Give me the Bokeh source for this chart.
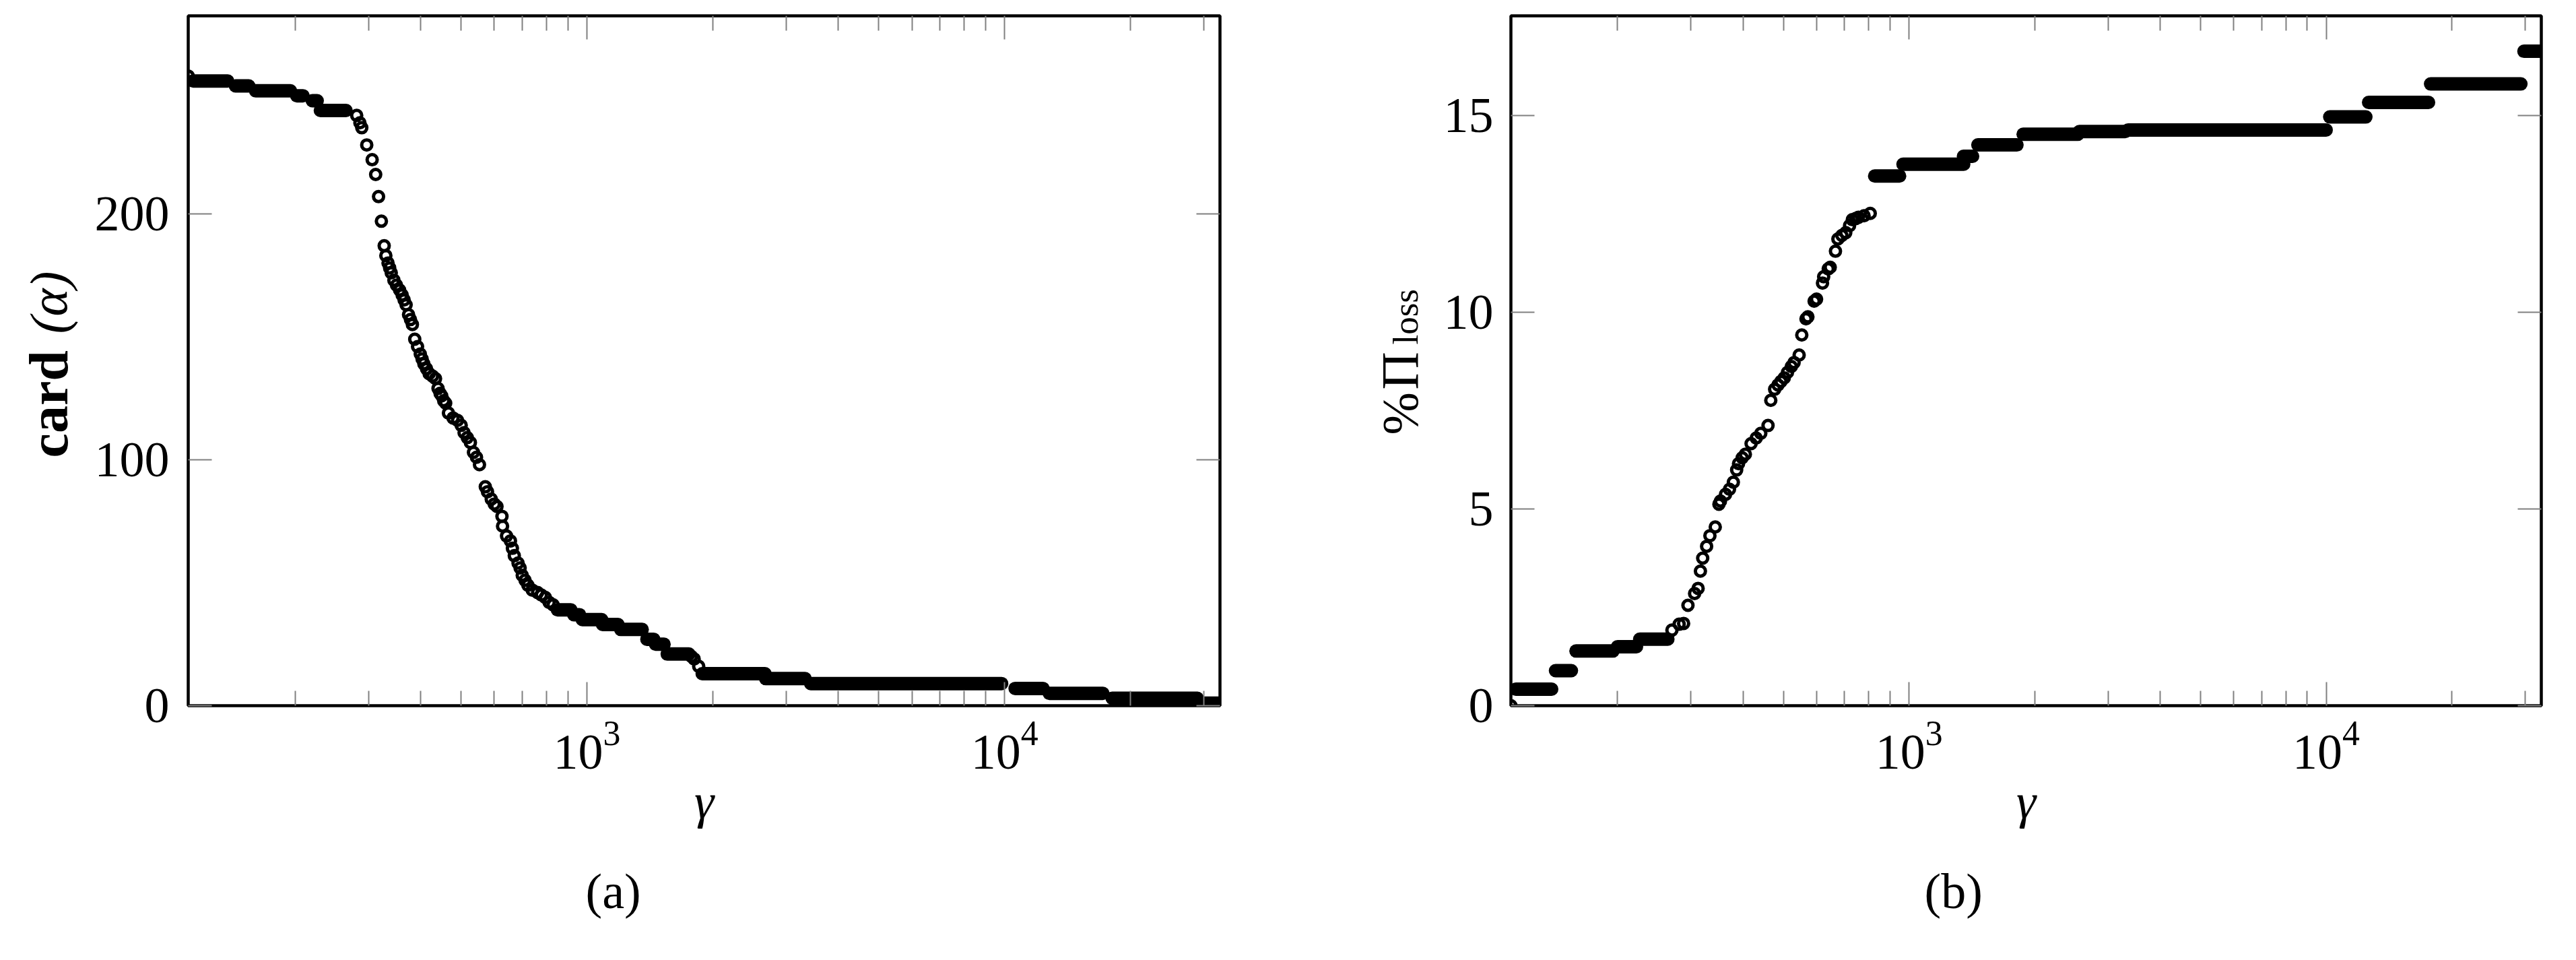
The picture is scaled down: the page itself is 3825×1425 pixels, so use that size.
import math
from bokeh.plotting import figure
from bokeh.layouts import row
from bokeh.models import FixedTicker, LogAxis, LinearAxis, ColumnDataSource, Title, Range1d
from bokeh.core.properties import value
from bokeh.embed import file_html
from bokeh.resources import INLINE

FONT = "Liberation Serif"

# ---------------- data ----------------
gamma_range = (111, 32800)
x_major_ticks = [1000, 10000]
x_major_labels = ["10³", "10⁴"]
x_minor_ticks = [200, 300, 400, 500, 600, 700, 800, 900,
                 2000, 3000, 4000, 5000, 6000, 7000, 8000, 9000,
                 20000, 30000]

# (a) card(alpha) vs gamma
card_ticks = [0, 100, 200]
card_range = (0, 280.5)
# runs of densely overlapping markers: start gamma, end gamma, value
card_run_start = [114, 144, 161, 202, 220, 230, 850, 930, 975, 1090, 1205, 1392, 1460, 1557,
                  1888, 2680, 3435, 10600, 12800, 18100, 29700]
card_run_end = [138, 155, 195, 209, 226, 265, 915, 960, 1085, 1187, 1356, 1445, 1530, 1755,
                2670, 3330, 9840, 12360, 17200, 28950, 32800]
card_run_value = [254, 252, 250, 248, 246, 242, 39, 37, 35, 33, 31, 27, 25, 21,
                  13, 11, 9, 7, 5, 3, 1]
# individual markers
card_pt_gamma = [111, 281, 286, 289, 297, 306, 312, 317, 322, 327, 330, 334, 337, 340, 345, 350,
                 356, 361, 365, 369, 374, 378, 382, 387, 393, 399, 403, 407, 413, 419, 427, 434,
                 440, 445, 449, 454, 459, 466, 478, 490, 500, 508, 517, 526, 535, 544, 553, 571,
                 578, 590, 600, 609, 626, 628, 642, 656, 663, 670, 684, 692, 700, 711, 722, 740,
                 762, 778, 795, 812, 830, 1780, 1806, 1852]
card_pt_value = [256, 240, 237, 235, 228, 222, 216, 207, 197, 187, 183, 180, 178, 176, 173, 171,
                 169, 167, 165, 163, 159, 157, 155, 149, 146, 143, 141, 139, 137, 135, 134, 133,
                 129, 127, 126, 124, 123, 119, 117, 116, 114, 111, 109, 107, 103, 101, 98, 89,
                 87, 84, 82, 81, 77, 73, 69, 67, 64, 61, 58, 56, 53, 51, 49, 47,
                 46, 45, 44, 42, 41, 20, 19, 16]

# (b) % Pi_loss vs gamma
loss_ticks = [0, 5, 10, 15]
loss_range = (0, 17.53)
loss_run_start = [114, 142, 159, 200, 226, 827, 967, 1350, 1462, 1877, 2560, 3350, 10200, 12640,
                  17800, 29800]
loss_run_end = [139, 155, 195, 222, 264, 949, 1352, 1420, 1814, 2538, 3300, 10000, 12450, 17600,
                29300, 32800]
loss_run_value = [0.42, 0.89, 1.39, 1.50, 1.69, 13.46, 13.76, 13.96, 14.25, 14.52, 14.59, 14.63,
                  14.96, 15.33, 15.80, 16.63]
loss_pt_gamma = [111, 270, 281, 288, 295, 306, 312, 316, 320, 327, 333, 343, 350, 353, 363, 371,
                 379, 386, 390, 398, 405, 418, 430, 441, 459, 466, 476, 485, 493, 502, 511, 522,
                 530, 545, 553, 566, 572, 592, 600, 620, 624, 640, 647, 666, 675, 690, 705, 720,
                 731, 745, 756, 780, 807]
loss_pt_value = [0.0, 1.92, 2.07, 2.09, 2.55, 2.85, 2.98, 3.42, 3.75, 4.05, 4.32, 4.54, 5.12, 5.20,
                 5.37, 5.50, 5.68, 5.99, 6.15, 6.30, 6.39, 6.66, 6.80, 6.92, 7.12, 7.76, 8.04, 8.15,
                 8.24, 8.33, 8.47, 8.62, 8.72, 8.91, 9.42, 9.83, 9.88, 10.28, 10.33, 10.74, 10.90,
                 11.10, 11.14, 11.55, 11.86, 11.95, 12.02, 12.20, 12.35, 12.38, 12.41, 12.45, 12.51]

# y-axis label pieces (rotated text)
ylabel_a_text = ["card", "(α)"]
ylabel_a_style = ["bold", "italic"]
ylabel_b_text = ["%", "Π", "loss"]

# ---------------- styling / geometry ----------------
MARK_SIZE = 15
MARK_LW = 5
RUN_LW = MARK_SIZE + MARK_LW
TICK_GRAY = "#808080"
FS = "74px"
HEIGHT = 1420
BORDER_TOP = 23
FRAME_H = 1024
FRAME_BOTTOM = BORDER_TOP + FRAME_H


def style_axis(ax, show_labels, major_len=35, minor_len=22):
    ax.axis_line_color = None
    ax.major_tick_in = major_len
    ax.major_tick_out = 0
    ax.minor_tick_in = minor_len
    ax.minor_tick_out = 0
    ax.major_tick_line_color = TICK_GRAY
    ax.major_tick_line_width = 2
    ax.minor_tick_line_color = TICK_GRAY
    ax.minor_tick_line_width = 2
    ax.major_label_text_font = FONT
    if show_labels:
        ax.major_label_text_font_size = FS
        ax.major_label_text_color = "black"
    else:
        ax.major_label_text_font_size = "6px"
        ax.major_label_text_color = None
        ax.major_label_standoff = 0


def make_panel(y_range, y_ticks, run_start, run_end, run_value, pt_x, pt_y,
               width, border_left, frame_w, caption, caption_offset, y_standoff):
    p = figure(width=width, height=HEIGHT, x_axis_type="log",
               x_range=gamma_range, y_range=y_range,
               output_backend="svg", toolbar_location=None,
               min_border_left=border_left,
               min_border_right=width - border_left - frame_w,
               min_border_top=BORDER_TOP,
               min_border_bottom=HEIGHT - FRAME_BOTTOM)
    p.title.visible = False
    p.xgrid.visible = False
    p.ygrid.visible = False
    p.background_fill_color = "white"
    p.border_fill_color = "white"
    p.outline_line_color = "black"
    p.outline_line_width = 4.5

    xt = FixedTicker(ticks=x_major_ticks, minor_ticks=x_minor_ticks)
    yt = FixedTicker(ticks=y_ticks)
    overrides = {str(t): lab for t, lab in zip(x_major_ticks, x_major_labels)}

    xa = p.xaxis[0]
    xa.ticker = xt
    xa.major_label_overrides = overrides
    style_axis(xa, True)
    xa.major_label_standoff = 24
    xa.axis_label = "γ"
    xa.axis_label_text_font = FONT
    xa.axis_label_text_font_size = FS
    xa.axis_label_text_font_style = "italic"
    xa.axis_label_text_color = "black"
    xa.axis_label_standoff = 4

    ya = p.yaxis[0]
    ya.ticker = yt
    style_axis(ya, True)
    ya.major_label_standoff = y_standoff

    top = LogAxis(ticker=xt)
    style_axis(top, False)
    p.add_layout(top, "above")
    right = LinearAxis(ticker=yt)
    style_axis(right, False)
    p.add_layout(right, "right")

    p.add_layout(Title(text=caption, align="left", offset=caption_offset,
                       text_font=FONT, text_font_size=FS, text_font_style="normal",
                       text_color="black", standoff=94), "below")

    runs = ColumnDataSource(dict(x0=run_start, x1=run_end, y=run_value))
    p.segment(x0="x0", y0="y", x1="x1", y1="y", source=runs,
              line_width=RUN_LW, line_cap="round", line_color="black")
    pts = ColumnDataSource(dict(x=pt_x, y=pt_y))
    p.scatter(x="x", y="y", source=pts, marker="circle", size=MARK_SIZE,
              line_width=MARK_LW, line_color="black", fill_color=None)
    return p


def label_strip(width):
    """Narrow axis-less figure; its frame has the same vertical extent as the plots,
    and its ranges are set so that data units equal page pixels."""
    s = figure(width=width, height=HEIGHT,
               x_range=Range1d(0, width), y_range=Range1d(FRAME_BOTTOM, BORDER_TOP),
               x_axis_location=None, y_axis_location=None,
               output_backend="svg", toolbar_location=None,
               min_border_left=0, min_border_right=0,
               min_border_top=BORDER_TOP, min_border_bottom=HEIGHT - FRAME_BOTTOM)
    s.title.visible = False
    s.grid.visible = False
    s.outline_line_color = None
    s.background_fill_color = "white"
    s.border_fill_color = "white"
    return s


def vtext(s, txt, px, py, size, style="normal"):
    s.text(x=[px], y=[py], text=[txt], angle=math.pi / 2,
           text_font=value(FONT), text_font_size=value(f"{size}px"),
           text_font_style=value(style), text_align=value("left"),
           text_baseline=value("alphabetic"), text_color="black")


# left label strip (page x 0..130)
L1W = 130
s1 = label_strip(L1W)
for txt, sty, py, size in zip(ylabel_a_text, ylabel_a_style, [679, 495], [82, 78]):
    vtext(s1, txt, 72, py, size, sty)

# panel (a): page x 130..1990, frame 279..1811
W1 = 1860
p1 = make_panel(card_range, card_ticks, card_run_start, card_run_end, card_run_value,
                card_pt_gamma, card_pt_value, W1, 279 - L1W, 1532, "(a)", 590, 28)

# label strip for (b): page x 1990..2140
L2X, L2W = 1990, 150
s2 = label_strip(L2W)
vtext(s2, ylabel_b_text[0], 2078 - L2X, 645, 76)
vtext(s2, ylabel_b_text[1], 2078 - L2X, 578, 78)
vtext(s2, ylabel_b_text[2], 2086 - L2X, 511, 53)

# panel (b): page x 2140..3813, frame 2242..3773
W2 = 1673
p2 = make_panel(loss_range, loss_ticks, loss_run_start, loss_run_end, loss_run_value,
                loss_pt_gamma, loss_pt_value, W2, 2242 - (L2X + L2W), 1531, "(b)", 614, 26)

layout = row(s1, p1, s2, p2)
open("out.html", "w").write(file_html(layout, INLINE))
